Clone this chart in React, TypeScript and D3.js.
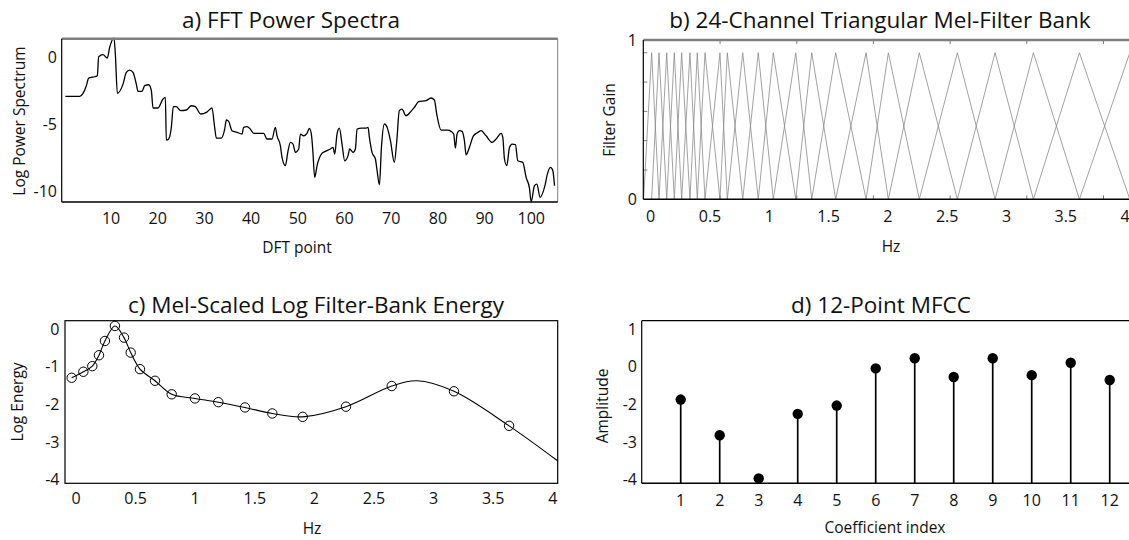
import React from "react";
import * as d3 from "d3";

const W = 1129;
const H = 540;
const FONT = "'Open Sans', sans-serif";

// a) FFT power spectrum
const fftBin = [
  0.21, 3.28, 3.99, 4.71, 5.21, 6.49, 7.06, 7.35, 8.27, 9.2, 9.7, 10.63, 10.92, 11.35,
  12.56, 13.27, 13.99, 14.7, 15.41, 15.77, 16.63, 17.2, 18.06, 18.63, 18.99, 20.05,
  21.13, 21.63, 21.84, 22.34, 22.91, 23.34, 23.98, 24.91, 26.13, 27.2, 28.05, 29.19,
  30.41, 31.62, 32.19, 32.55, 33.62, 34.34, 34.69, 35.19, 35.9, 36.97, 38.05, 38.4,
  39.12, 39.83, 40.55, 42.69, 43.4, 44.47, 45.19, 45.55, 46.26, 46.62, 47.33, 47.9,
  48.4, 48.98, 49.47, 50.19, 50.55, 51.26, 51.97, 52.47, 52.9, 53.19, 53.62, 54.12,
  55.05, 55.9, 56.97, 57.55, 57.9, 58.4, 58.9, 59.47, 60.04, 60.76, 61.11, 61.83,
  62.33, 62.69, 63.62, 64.62, 65.05, 65.33, 65.9, 66.62, 66.98, 67.48, 67.91, 68.55,
  69.12, 69.84, 70.67, 71.2, 71.74, 72.31, 73.17, 74.24, 74.96, 75.89, 77.46, 78.53,
  79.25, 79.75, 80.68, 82.11, 82.82, 83.39, 83.75, 84.11, 84.61, 85.18, 85.68, 86.04,
  86.75, 87.61, 88.54, 89.25, 90.32, 91.61, 92.47, 93.54, 93.9, 94.26, 94.76, 95.33,
  95.9, 96.61, 97.11, 98.18, 98.9, 99.61, 99.97, 100.69, 101.19, 101.9, 102.83,
  103.55, 104.12, 104.62, 104.98,
];
const fftLogPower = [
  -2.91, -2.91, -2.68, -2.11, -1.54, -1.44, -1.37, 0.06, 0.21, -0.04, 0.76, 1.46, 0.26, -2.68,
  -1.99, -1.11, -0.94, -1.11, -1.99, -2.53, -2.53, -2.11, -2.04, -2.48, -3.78, -3.78,
  -3.11, -2.98, -6.18, -6.1, -5.23, -3.68, -3.68, -3.98, -3.93, -3.61, -3.68, -4.23,
  -4.11, -3.78, -5.23, -6.03, -6.03, -5.36, -4.68, -4.78, -5.48, -5.6, -5.73, -5.23,
  -5.18, -5.36, -5.68, -5.68, -6.1, -6.1, -5.23, -5.86, -6.6, -7.48, -8.1, -7.0,
  -6.35, -6.48, -7.1, -6.85, -5.73, -5.86, -5.68, -5.31, -5.73, -6.85, -8.98, -8.1,
  -7.23, -7.03, -6.85, -6.73, -7.23, -5.73, -5.29, -6.48, -7.73, -7.35, -6.85, -7.1,
  -6.85, -5.36, -5.29, -5.29, -5.23, -5.98, -7.1, -7.6, -8.48, -9.53, -6.73, -4.98,
  -5.23, -6.23, -7.85, -6.23, -3.98, -3.86, -4.36, -4.03, -3.73, -3.31, -3.23, -3.03,
  -3.18, -4.23, -5.43, -5.43, -5.53, -5.73, -6.78, -5.73, -5.48, -5.53, -6.23, -7.28,
  -6.73, -5.86, -5.61, -5.48, -5.86, -6.36, -6.1, -5.68, -5.98, -7.6, -8.1, -6.73,
  -6.48, -6.53, -7.73, -7.85, -8.98, -9.78, -10.8, -9.6, -9.48, -10.47, -9.73,
  -8.6, -8.23, -8.48, -9.6,
];
const fftXTicks = [10, 20, 30, 40, 50, 60, 70, 80, 90, 100];
const fftYTicks = [0, -5, -10];

// b) triangular mel filter bank (centre frequencies)
const melCenters = [
  0.008, 0.07, 0.135, 0.199, 0.261, 0.331, 0.393, 0.458, 0.584, 0.646, 0.776, 0.907,
  1.034, 1.223, 1.358, 1.56, 1.816, 2.004, 2.265, 2.586, 2.904, 3.227, 3.615, 4.04,
];
const melLowEdge = -0.06;
const melHighEdge = 4.5;
const filterPeak = 0.92;
const hzTicks = [0, 0.5, 1, 1.5, 2, 2.5, 3, 3.5, 4];
const bankMinorTicks = [0.585, 1.232, 1.878, 2.525, 3.171, 3.818];
const gainTicks = [0, 1];

// c) mel-scaled log filter-bank energy
const energyHz = [
  -0.036, 0.062, 0.137, 0.193, 0.243, 0.327, 0.403, 0.459, 0.537, 0.663, 0.803, 0.998,
  1.194, 1.418, 1.647, 1.902, 2.265, 2.649, 3.171, 3.633,
];
const energyLog = [
  -1.29, -1.13, -0.98, -0.69, -0.31, 0.09, -0.22, -0.62, -1.06, -1.37, -1.73, -1.84,
  -1.94, -2.08, -2.24, -2.33, -2.06, -1.51, -1.65, -2.57,
];
const curveExtraHz = [2.86, 4.04];
const curveExtraLog = [-1.37, -3.5];
const energyYTicks = [0, -1, -2, -3, -4];

// d) 12-point MFCC
const mfccIndex = [1, 2, 3, 4, 5, 6, 7, 8, 9, 10, 11, 12];
const mfccValue = [-1.87, -2.82, -3.97, -2.25, -2.03, -1.04, -0.77, -1.27, -0.77, -1.22, -0.89, -1.35];
const mfccYTicks = [0, -1, -2, -3, -4];
const mfccYLabels = ["1", "0", "-2", "-3", "-4"];

const TICK = 16;
const LABEL = 15.5;
const TITLE = 22.5;

function Title({ x, y, text }: { x: number; y: number; text: string }) {
  return (
    <text x={x} y={y} textAnchor="middle" fontSize={TITLE} fill="#111">
      {text}
    </text>
  );
}

function VLabel({ x, y, text }: { x: number; y: number; text: string }) {
  return (
    <text transform={`translate(${x},${y}) rotate(-90)`} textAnchor="middle" fontSize={LABEL} fill="#111">
      {text}
    </text>
  );
}

function PanelA() {
  const x = d3.scaleLinear().domain([-0.57, 105.66]).range([61.7, 557.7]);
  const y = d3.scaleLinear().domain([-10.82, 1.41]).range([202, 38.7]);
  const pts = fftBin.map((b, i) => [b, fftLogPower[i]] as [number, number]);
  const line = d3
    .line<[number, number]>()
    .x((d) => x(d[0]))
    .y((d) => y(d[1]))
    .curve(d3.curveMonotoneX);
  const [x0, x1] = x.range();
  const [y0, y1] = y.range();
  return (
    <g>
      <Title x={291} y={28} text="a) FFT Power Spectra" />
      <path d={line(pts) || ""} fill="none" stroke="#000" strokeWidth={1.3} />
      <line x1={x0} x2={x1} y1={y1} y2={y1} stroke="#7f7f7f" strokeWidth={2.5} />
      <line x1={x1} x2={x1} y1={y1} y2={y0} stroke="#7f7f7f" strokeWidth={1} />
      <line x1={x0} x2={x0} y1={y1} y2={y0} stroke="#000" strokeWidth={1.2} />
      <line x1={x0} x2={x1} y1={y0} y2={y0} stroke="#000" strokeWidth={1.6} />
      {fftYTicks.map((t) => (
        <text key={t} x={57} y={y(t)} dy="0.35em" textAnchor="end" fontSize={TICK}>
          {t}
        </text>
      ))}
      {fftXTicks.map((t) => (
        <text key={t} x={x(t)} y={224} textAnchor="middle" fontSize={TICK}>
          {t}
        </text>
      ))}
      <text x={297} y={253} textAnchor="middle" fontSize={LABEL}>
        DFT point
      </text>
      <VLabel x={25} y={121} text="Log Power Spectrum" />
    </g>
  );
}

function PanelB() {
  const x = d3.scaleLinear().domain([-0.0624, 4.05]).range([643.3, 1131]);
  const y = d3.scaleLinear().domain([0, 1]).range([199.3, 40]);
  const [x0, x1] = x.range();
  const [y0, y1] = y.range();
  const line = d3
    .line<[number, number]>()
    .x((d) => x(d[0]))
    .y((d) => y(d[1]));
  const tri = melCenters.map((c, i) => {
    const lo = i === 0 ? melLowEdge : melCenters[i - 1];
    const hi = i === melCenters.length - 1 ? melHighEdge : melCenters[i + 1];
    return [
      [lo, 0],
      [c, filterPeak],
      [hi, 0],
    ] as [number, number][];
  });
  const gainMinor = d3.range(1, 6).map((k) => (filterPeak * k) / 5);
  return (
    <g>
      <Title x={880} y={28} text="b) 24-Channel Triangular Mel-Filter Bank" />
      <defs>
        <clipPath id="bankClip">
          <rect x={x0} y={y1} width={x1 - x0} height={y0 - y1} />
        </clipPath>
      </defs>
      <g clipPath="url(#bankClip)">
        {tri.map((t, i) => (
          <path key={i} d={line(t) || ""} fill="none" stroke="#8a8a8a" strokeWidth={0.8} />
        ))}
      </g>
      {bankMinorTicks.map((t) => (
        <g key={t}>
          <line x1={x(t)} x2={x(t)} y1={y1} y2={y1 + 4} stroke="#7f7f7f" />
          <line x1={x(t)} x2={x(t)} y1={y0} y2={y0 - 4} stroke="#7f7f7f" />
        </g>
      ))}
      {gainMinor.map((g) => (
        <line key={g} x1={x0} x2={x0 + 4} y1={y(g)} y2={y(g)} stroke="#7f7f7f" />
      ))}
      <line x1={x0} x2={x1} y1={y1} y2={y1} stroke="#7f7f7f" strokeWidth={2.5} />
      <line x1={x0} x2={x0} y1={y1} y2={y0} stroke="#000" strokeWidth={1.2} />
      <line x1={x0} x2={x1} y1={y0} y2={y0} stroke="#000" strokeWidth={1.6} />
      {gainTicks.map((t) => (
        <text key={t} x={637} y={y(t)} dy="0.35em" textAnchor="end" fontSize={TICK}>
          {t}
        </text>
      ))}
      {hzTicks.map((t) => (
        <text key={t} x={x(t)} y={222} textAnchor="middle" fontSize={TICK}>
          {t}
        </text>
      ))}
      <text x={891} y={252} textAnchor="middle" fontSize={LABEL}>
        Hz
      </text>
      <VLabel x={615} y={120} text="Filter Gain" />
    </g>
  );
}

function PanelC() {
  const x = d3.scaleLinear().domain([-0.092, 4.041]).range([65, 557.7]);
  const y = d3.scaleLinear().domain([-4.1, 0.23]).range([483.3, 320.7]);
  const [x0, x1] = x.range();
  const [y0, y1] = y.range();
  const marks = energyHz.map((h, i) => [h, energyLog[i]] as [number, number]);
  const curvePts = marks
    .concat(curveExtraHz.map((h, i) => [h, curveExtraLog[i]] as [number, number]))
    .sort((a, b) => a[0] - b[0]);
  const line = d3
    .line<[number, number]>()
    .x((d) => x(d[0]))
    .y((d) => y(d[1]))
    .curve(d3.curveCatmullRom.alpha(0.5));
  return (
    <g>
      <Title x={316} y={313} text="c) Mel-Scaled Log Filter-Bank Energy" />
      <path d={line(curvePts) || ""} fill="none" stroke="#000" strokeWidth={1.1} />
      {marks.map((m, i) => (
        <circle key={i} cx={x(m[0])} cy={y(m[1])} r={4.7} fill="none" stroke="#000" strokeWidth={1} />
      ))}
      <rect x={x0} y={y1} width={x1 - x0} height={y0 - y1} fill="none" stroke="#000" strokeWidth={1.2} />
      {energyYTicks.map((t) => (
        <text key={t} x={59.5} y={y(t)} dy="0.35em" textAnchor="end" fontSize={TICK}>
          {t}
        </text>
      ))}
      {hzTicks.map((t) => (
        <text key={t} x={x(t)} y={504} textAnchor="middle" fontSize={TICK}>
          {t}
        </text>
      ))}
      <text x={312} y={534} textAnchor="middle" fontSize={LABEL}>
        Hz
      </text>
      <VLabel x={23} y={402} text="Log Energy" />
    </g>
  );
}

function PanelD() {
  const x = d3.scaleLinear().domain([0, 12.52]).range([641.7, 1130]);
  const y = d3.scaleLinear().domain([-4.1, 0.23]).range([483.3, 320.7]);
  const [x0, x1] = x.range();
  const [y0, y1] = y.range();
  return (
    <g>
      <Title x={881} y={313} text="d) 12-Point MFCC" />
      {mfccIndex.map((k, i) => (
        <g key={k}>
          <line x1={x(k)} x2={x(k)} y1={y0} y2={y(mfccValue[i])} stroke="#000" strokeWidth={1.7} />
          <circle cx={x(k)} cy={y(mfccValue[i])} r={5.2} fill="#000" />
        </g>
      ))}
      <line x1={x0} x2={x1} y1={y1} y2={y1} stroke="#000" strokeWidth={1.2} />
      <line x1={x0} x2={x0} y1={y1} y2={y0} stroke="#000" strokeWidth={1.2} />
      <line x1={x0} x2={x1} y1={y0} y2={y0} stroke="#000" strokeWidth={1.6} />
      {mfccYTicks.map((t, i) => (
        <text key={t} x={637} y={y(t)} dy="0.35em" textAnchor="end" fontSize={TICK}>
          {mfccYLabels[i]}
        </text>
      ))}
      {mfccIndex.map((k) => (
        <text key={k} x={x(k)} y={506} textAnchor="middle" fontSize={TICK}>
          {k}
        </text>
      ))}
      <text x={885} y={533} textAnchor="middle" fontSize={LABEL}>
        Coefficient index
      </text>
      <VLabel x={608} y={406} text="Amplitude" />
    </g>
  );
}

export default function App() {
  return (
    <svg
      width={W}
      height={H}
      style={{ position: "absolute", left: 0, top: 0, background: "#fff" }}
      fontFamily={FONT}
      fill="#111"
    >
      <rect width={W} height={H} fill="#fff" />
      <PanelA />
      <PanelB />
      <PanelC />
      <PanelD />
    </svg>
  );
}
